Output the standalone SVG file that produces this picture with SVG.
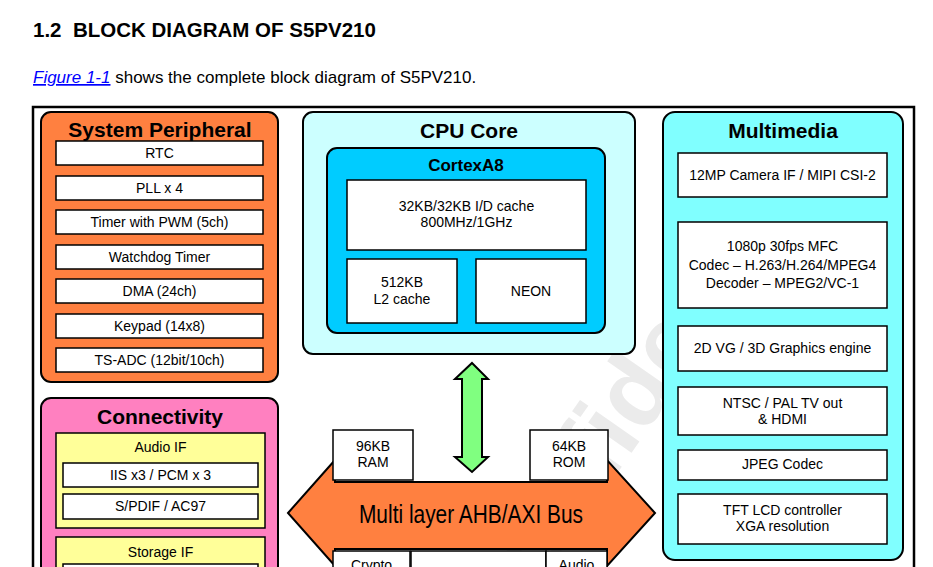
<svg xmlns="http://www.w3.org/2000/svg" width="933" height="567" viewBox="0 0 933 567">
<style>
text{font-family:"Liberation Sans",Arial,Helvetica,sans-serif;fill:#000}
.t{font-size:21px;font-weight:bold;text-anchor:middle}
.i{font-size:14px;text-anchor:middle}
.box{fill:#fff;stroke:#000;stroke-width:1.5}
.grp{stroke:#000;stroke-width:2}
.wm{font-size:100px;font-weight:bold;fill:#ebebeb}
</style>
<rect width="933" height="567" fill="#fff"/>
<text x="33" y="37" xml:space="preserve" style="font-size:20.5px;font-weight:bold">1.2  BLOCK DIAGRAM OF S5PV210</text>
<text x="33" y="83" style="font-size:17px"><tspan style="fill:#0000ff;font-style:italic;text-decoration:underline">Figure 1-1</tspan> shows the complete block diagram of S5PV210.</text>
<rect x="33" y="107" width="881" height="500" fill="none" stroke="#000" stroke-width="2.5"/>
<text class="wm" transform="translate(497,645) rotate(-55)">Confidential</text>

<g id="system-peripheral">
<rect class="grp" x="41" y="112" width="237" height="270" rx="10" fill="#FF8040"/>
<text class="t" x="160" y="137">System Peripheral</text>
<rect class="box" x="56" y="141" width="207" height="24"/><text class="i" x="159.5" y="158">RTC</text>
<rect class="box" x="56" y="176" width="207" height="24"/><text class="i" x="159.5" y="193">PLL x 4</text>
<rect class="box" x="56" y="210" width="207" height="24"/><text class="i" x="159.5" y="227">Timer with PWM (5ch)</text>
<rect class="box" x="56" y="245" width="207" height="24"/><text class="i" x="159.5" y="262">Watchdog Timer</text>
<rect class="box" x="56" y="279" width="207" height="24"/><text class="i" x="159.5" y="296">DMA (24ch)</text>
<rect class="box" x="56" y="314" width="207" height="24"/><text class="i" x="159.5" y="331">Keypad (14x8)</text>
<rect class="box" x="56" y="348" width="207" height="24"/><text class="i" x="159.5" y="365">TS-ADC (12bit/10ch)</text>
</g>

<g id="connectivity">
<rect class="grp" x="41" y="398" width="237" height="200" rx="10" fill="#FF80C0"/>
<text class="t" x="160" y="424">Connectivity</text>
<rect class="box" x="56" y="433" width="209" height="95" style="fill:#FFFF99"/>
<text class="i" x="160.5" y="452">Audio IF</text>
<rect class="box" x="63" y="463" width="195" height="24"/><text class="i" x="160.5" y="480">IIS x3 / PCM x 3</text>
<rect class="box" x="63" y="494" width="195" height="25"/><text class="i" x="160.5" y="511">S/PDIF / AC97</text>
<rect class="box" x="56" y="537" width="209" height="60" style="fill:#FFFF99"/>
<text class="i" x="160.5" y="557">Storage IF</text>
<rect class="box" x="63" y="564" width="195" height="30"/>
</g>

<g id="cpu-core">
<rect class="grp" x="303" y="112" width="332" height="242" rx="10" fill="#CCFFFF"/>
<text class="t" x="469" y="138">CPU Core</text>
<g id="cortex-a8">
<rect class="grp" x="327" y="148" width="278" height="185" rx="10" fill="#00CCFF"/>
<text class="t" x="466" y="171" style="font-size:17px">CortexA8</text>
<rect class="box" x="347" y="180" width="239" height="70"/>
<text class="i" x="466.5" y="211">32KB/32KB I/D cache</text>
<text class="i" x="466.5" y="227">800MHz/1GHz</text>
<rect class="box" x="347" y="259" width="110" height="64"/>
<text class="i" x="402" y="287">512KB</text>
<text class="i" x="402" y="304">L2 cache</text>
<rect class="box" x="476" y="259" width="110" height="64"/>
<text class="i" x="531" y="296">NEON</text>
</g>
</g>

<g id="connectors">
<polygon points="472,363 488,379 482,379 482,457 488,457 472,472 455,457 462,457 462,379 455,379" fill="#80FF80" stroke="#000" stroke-width="2" stroke-linejoin="miter"/>
</g>

<g id="bus">
<polygon points="288,513 335,460 335,482 607,482 607,460 655,513 607,566 607,549 335,549 335,566" fill="#FF8040" stroke="#000" stroke-width="2"/>
<text transform="translate(471,523) scale(0.95,1.2)" x="0" y="0" style="font-size:22px;text-anchor:middle">Multi layer AHB/AXI Bus</text>
</g>

<g id="ram">
<rect class="box" x="333" y="430" width="80" height="50"/>
<text class="i" x="373" y="451">96KB</text>
<text class="i" x="373" y="467">RAM</text>
</g>
<g id="rom">
<rect class="box" x="530" y="430" width="78" height="50"/>
<text class="i" x="569" y="451">64KB</text>
<text class="i" x="569" y="467">ROM</text>
</g>
<g id="crypto">
<rect class="box" x="333" y="551" width="77" height="40"/>
<text class="i" x="371.5" y="570">Crypto</text>
</g>
<g id="bus-mid">
<rect class="box" x="411" y="551" width="135" height="40"/>
</g>
<g id="audio">
<rect class="box" x="546" y="551" width="61" height="40"/>
<text class="i" x="576.5" y="570">Audio</text>
</g>

<g id="multimedia">
<rect class="grp" x="663" y="112" width="240" height="448" rx="12" fill="#80FFFF"/>
<text class="t" x="783" y="138">Multimedia</text>
<rect class="box" x="678" y="153" width="209" height="44"/>
<text class="i" x="782.5" y="180">12MP Camera IF / MIPI CSI-2</text>
<rect class="box" x="678" y="222" width="209" height="86"/>
<text class="i" x="782.5" y="251">1080p 30fps MFC</text>
<text class="i" x="782.5" y="270">Codec – H.263/H.264/MPEG4</text>
<text class="i" x="782.5" y="288">Decoder – MPEG2/VC-1</text>
<rect class="box" x="678" y="326" width="209" height="45"/>
<text class="i" x="782.5" y="353">2D VG / 3D Graphics engine</text>
<rect class="box" x="678" y="387" width="209" height="48"/>
<text class="i" x="782.5" y="408">NTSC / PAL TV out</text>
<text class="i" x="782.5" y="424">&amp; HDMI</text>
<rect class="box" x="678" y="450" width="209" height="30"/>
<text class="i" x="782.5" y="469">JPEG Codec</text>
<rect class="box" x="678" y="494" width="209" height="50"/>
<text class="i" x="782.5" y="515">TFT LCD controller</text>
<text class="i" x="782.5" y="531">XGA resolution</text>
</g>
</svg>
